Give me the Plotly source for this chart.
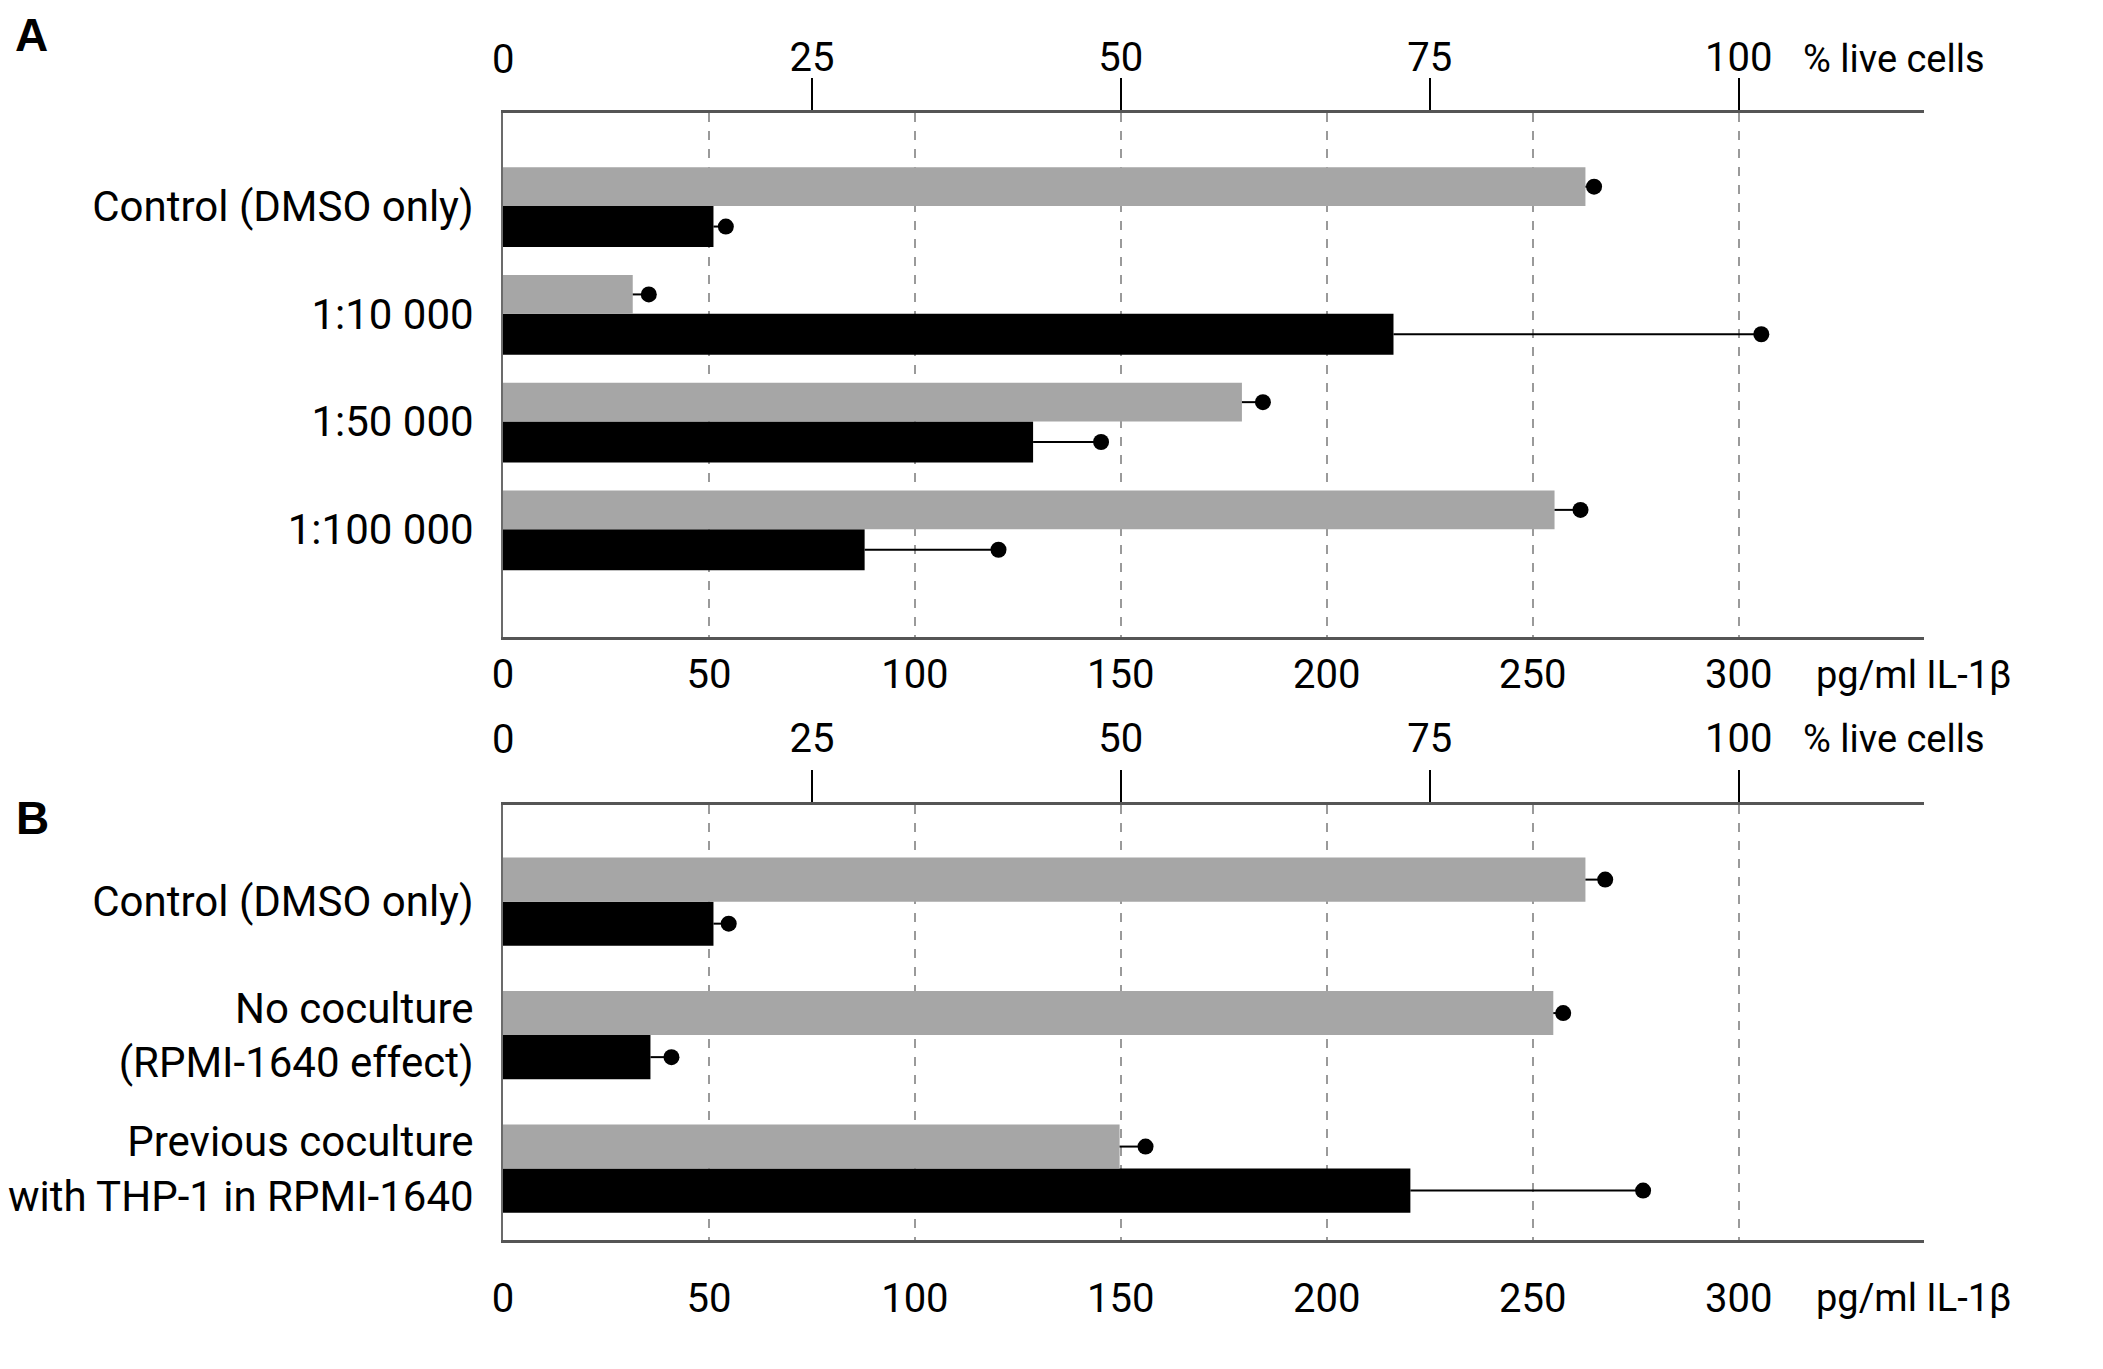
import plotly.graph_objects as go

# Panel A - dilutions
cats_a = ["Control (DMSO only)", "1:10 000", "1:50 000", "1:100 000"]
live_a = [87.6, 10.5, 59.8, 85.1]        # % live cells
live_a_sd = [0.7, 1.3, 1.7, 2.1]
il_a = [51.1, 216.2, 128.7, 87.8]        # pg/ml IL-1b
il_a_sd = [3.0, 89.3, 16.5, 32.5]

# Panel B - coculture
cats_b = ["Control (DMSO only)", "No coculture<br>(RPMI-1640 effect)",
          "Previous coculture<br>with THP-1 in RPMI-1640"]
live_b = [87.6, 85.0, 49.9]
live_b_sd = [1.6, 0.8, 2.1]
il_b = [51.1, 35.8, 220.3]
il_b_sd = [3.7, 5.1, 56.5]

pg_ticks = [0, 50, 100, 150, 200, 250, 300]
pct_ticks = [25, 50, 75, 100]

FONT = "Roboto, Liberation Sans, sans-serif"
GRAY = "#a6a6a6"
W, H = 2103, 1369
OFF = 8  # page margin around the plotly div


def fx(px):
    return (px - OFF) / W


def fy(py):
    return 1 - (py - OFF) / H


fig = go.Figure()


def add_panel(cats, live, live_sd, il, il_sd, xb, xt, yax, w_gray, w_black):
    idx = list(range(len(cats)))
    # grey bars: % live cells on top axis
    fig.add_trace(go.Bar(
        y=idx, x=live, orientation="h", xaxis=xt, yaxis=yax,
        width=w_gray, offset=-w_gray, marker=dict(color=GRAY, line_width=0),
        error_x=dict(type="data", symmetric=False, array=live_sd,
                     arrayminus=[0] * len(live), color="black", thickness=2, width=0),
        showlegend=False))
    # black bars: IL-1b on bottom axis
    fig.add_trace(go.Bar(
        y=idx, x=il, orientation="h", xaxis=xb, yaxis=yax,
        width=w_black, offset=0, marker=dict(color="black", line_width=0),
        error_x=dict(type="data", symmetric=False, array=il_sd,
                     arrayminus=[0] * len(il), color="black", thickness=2, width=0),
        showlegend=False))
    # dots at the end of the error bars
    fig.add_trace(go.Scatter(
        x=[v + s for v, s in zip(live, live_sd)], y=[i - w_gray / 2 for i in idx],
        xaxis=xt, yaxis=yax, mode="markers",
        marker=dict(color="black", size=16), showlegend=False))
    fig.add_trace(go.Scatter(
        x=[v + s for v, s in zip(il, il_sd)], y=[i + w_black / 2 for i in idx],
        xaxis=xb, yaxis=yax, mode="markers",
        marker=dict(color="black", size=16), showlegend=False))


add_panel(cats_a, live_a, live_a_sd, il_a, il_a_sd, "x", "x2", "y", 0.36, 0.38)
add_panel(cats_b, live_b, live_b_sd, il_b, il_b_sd, "x3", "x4", "y2", 0.33, 0.33)

dom_x = [fx(503), fx(1924)]
tick_font = dict(family=FONT, size=40, color="black")
cat_font = dict(family=FONT, size=42, color="black")

bottom_axis = dict(
    domain=dom_x, range=[0, 345], tickvals=pg_ticks + [345],
    ticktext=[str(t) for t in pg_ticks] + [""], ticks="",
    showgrid=True, gridcolor="#9a9a9a", griddash="dash", gridwidth=1.5,
    zeroline=False, showline=True, linecolor="#555555", linewidth=2.5,
    tickfont=tick_font, automargin=False)
top_axis = dict(
    range=[0, 115], side="top", tickvals=pct_ticks,
    ticktext=[str(t) for t in pct_ticks], ticks="outside", ticklen=32,
    tickwidth=2, tickcolor="black", showgrid=False,
    zeroline=False, showline=True, linecolor="#555555", linewidth=2.5,
    tickfont=tick_font, automargin=False)
cat_axis = dict(
    ticks="", ticklabelstandoff=19, showgrid=False, zeroline=False,
    showline=True, linecolor="#6b6b6b", linewidth=2, tickfont=cat_font,
    automargin=False)

fig.update_layout(
    width=W, height=H,
    margin=dict(l=0, r=0, t=0, b=0),
    paper_bgcolor="white", plot_bgcolor="white",
    barmode="overlay",
    xaxis=dict(bottom_axis, anchor="y", ticklabelstandoff=0),
    xaxis2=dict(top_axis, overlaying="x", anchor="y", ticklabelstandoff=-9),
    xaxis3=dict(bottom_axis, anchor="y2", ticklabelstandoff=21),
    xaxis4=dict(top_axis, overlaying="x3", anchor="y2", ticklabelstandoff=2),
    yaxis=dict(cat_axis, domain=[fy(637), fy(113)], range=[4.0, -0.864],
               tickvals=list(range(len(cats_a))), ticktext=cats_a),
    yaxis2=dict(cat_axis, domain=[fy(1240), fy(805)], range=[2.535, -0.724],
                tickvals=list(range(len(cats_b))), ticktext=cats_b),
)

ann_font = dict(family=FONT, size=38, color="black")
notes = [
    # top-axis "0" labels
    dict(text="0", xref="x2", x=0, yref="paper", y=fy(59), xanchor="center",
         font=tick_font),
    dict(text="0", xref="x4", x=0, yref="paper", y=fy(739), xanchor="center",
         font=tick_font),
    # axis titles
    dict(text="% live cells", xref="paper", x=fx(1801), yref="paper",
         y=fy(59), xanchor="left", font=ann_font),
    dict(text="% live cells", xref="paper", x=fx(1801), yref="paper",
         y=fy(739), xanchor="left", font=ann_font),
    dict(text="pg/ml IL-1β", xref="paper", x=fx(1814), yref="paper",
         y=fy(675), xanchor="left", font=ann_font),
    dict(text="pg/ml IL-1β", xref="paper", x=fx(1814), yref="paper",
         y=fy(1298), xanchor="left", font=ann_font),
]
for n in notes:
    fig.add_annotation(showarrow=False, yanchor="middle", **n)

# panel letters
letter_font = dict(family="Liberation Sans, Arial, sans-serif", size=46, color="black")
fig.add_annotation(text="<b>A</b>", xref="paper", x=fx(14), yref="paper", y=1,
                   xanchor="left", yanchor="top", borderpad=0, showarrow=False,
                   font=letter_font)
fig.add_annotation(text="<b>B</b>", xref="paper", x=fx(14), yref="paper", y=fy(818),
                   xanchor="left", yanchor="middle", showarrow=False,
                   font=letter_font)

fig.write_html("out.html")
